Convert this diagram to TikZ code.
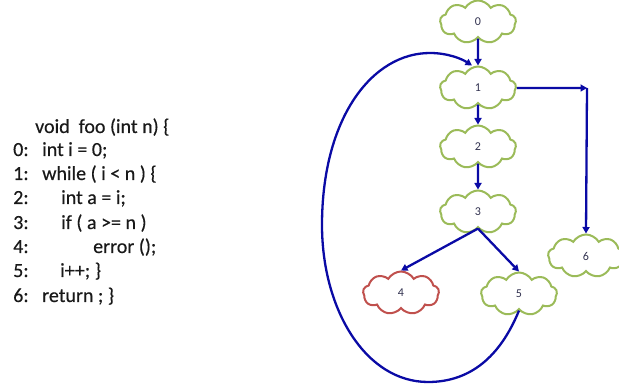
\documentclass[tikz,border=0pt]{standalone}
\usepackage{fontspec}
\setmainfont{Carlito}
\newfontfamily\codefont{Carlito}[FakeBold=0.4]
\usetikzlibrary{shapes.symbols,arrows.meta}

\definecolor{cloudgreen}{RGB}{155,187,89}
\definecolor{cloudred}{RGB}{192,80,77}
\definecolor{edgeblue}{RGB}{10,10,165}
\definecolor{labelink}{RGB}{50,50,80}
\definecolor{codeink}{RGB}{25,25,25}

\tikzset{
  block/.style={cloud, cloud puffs=9, cloud puff arc=120, aspect=1.8,
    draw=cloudgreen, line width=2pt, fill=white,
    minimum width=76pt, minimum height=43pt, inner sep=0pt,
    font=\fontsize{12}{14}\selectfont, text=labelink},
  errblock/.style={block, draw=cloudred},
  arr/.style={draw=edgeblue, line width=2.3pt,
    -{Triangle[length=6.5pt,width=7pt]}},
  codeline/.style={anchor=base west, inner sep=0pt, text=codeink,
    font=\codefont\fontsize{20}{24}\selectfont},
}

\begin{document}
\begin{tikzpicture}[x=1pt,y=-1pt]
  \useasboundingbox (0,0) rectangle (619,387);

  % source listing
  \node[codeline] (hdr) at (35,133) {void\ \ foo (int n) \{};
  \node[codeline] (l0) at (13,156) {0:};
  \node[codeline] (c0) at (42,156) {int i = 0;};
  \node[codeline] (l1) at (13,180) {1:};
  \node[codeline] (c1) at (42,180) {while ( i < n ) \{};
  \node[codeline] (l2) at (13,204) {2:};
  \node[codeline] (c2) at (61,204) {int a = i;};
  \node[codeline] (l3) at (13,229) {3:};
  \node[codeline] (c3) at (61,229) {if ( a >= n )};
  \node[codeline] (l4) at (13,253) {4:};
  \node[codeline] (c4) at (93,253) {error ();};
  \node[codeline] (l5) at (13,277) {5:};
  \node[codeline] (c5) at (60,277) {i++; \}};
  \node[codeline] (l6) at (13,302) {6:};
  \node[codeline] (c6) at (42,302) {return ; \}};

  % control-flow graph
  \node[block] (n0) at (478,22) {0};
  \node[block] (n1) at (478,88) {1};
  \node[block] (n2) at (478,147) {2};
  \node[block] (n3) at (478,212) {3};
  \node[errblock] (n4) at (401,293) {4};
  \node[block] (n5) at (519,294) {5};
  \node[block] (n6) at (586,256) {6};
  \coordinate (turn) at (587,88);

  \draw[arr] (n0) -- (n1);
  \draw[arr] (n1) -- (n2);
  \draw[arr] (n2) -- (n3);
  \draw[arr] (n3.south) -- (n4.north);
  \draw[arr] (n3.south) -- (n5.north);
  \draw[arr] (n1.east) -- (turn);
  \draw[arr] (turn) -- (n6.north);

  % back edge of the loop
  \draw[arr] (n5.south)
      .. controls (500,357) and (470,382) .. (428,382)
      .. controls (366,382) and (322,310) .. (322,225)
      .. controls (322,118) and (372,53) .. (430,53)
      .. controls (448,53) and (462,59) .. ([xshift=-6pt]n1.north);
\end{tikzpicture}
\end{document}
